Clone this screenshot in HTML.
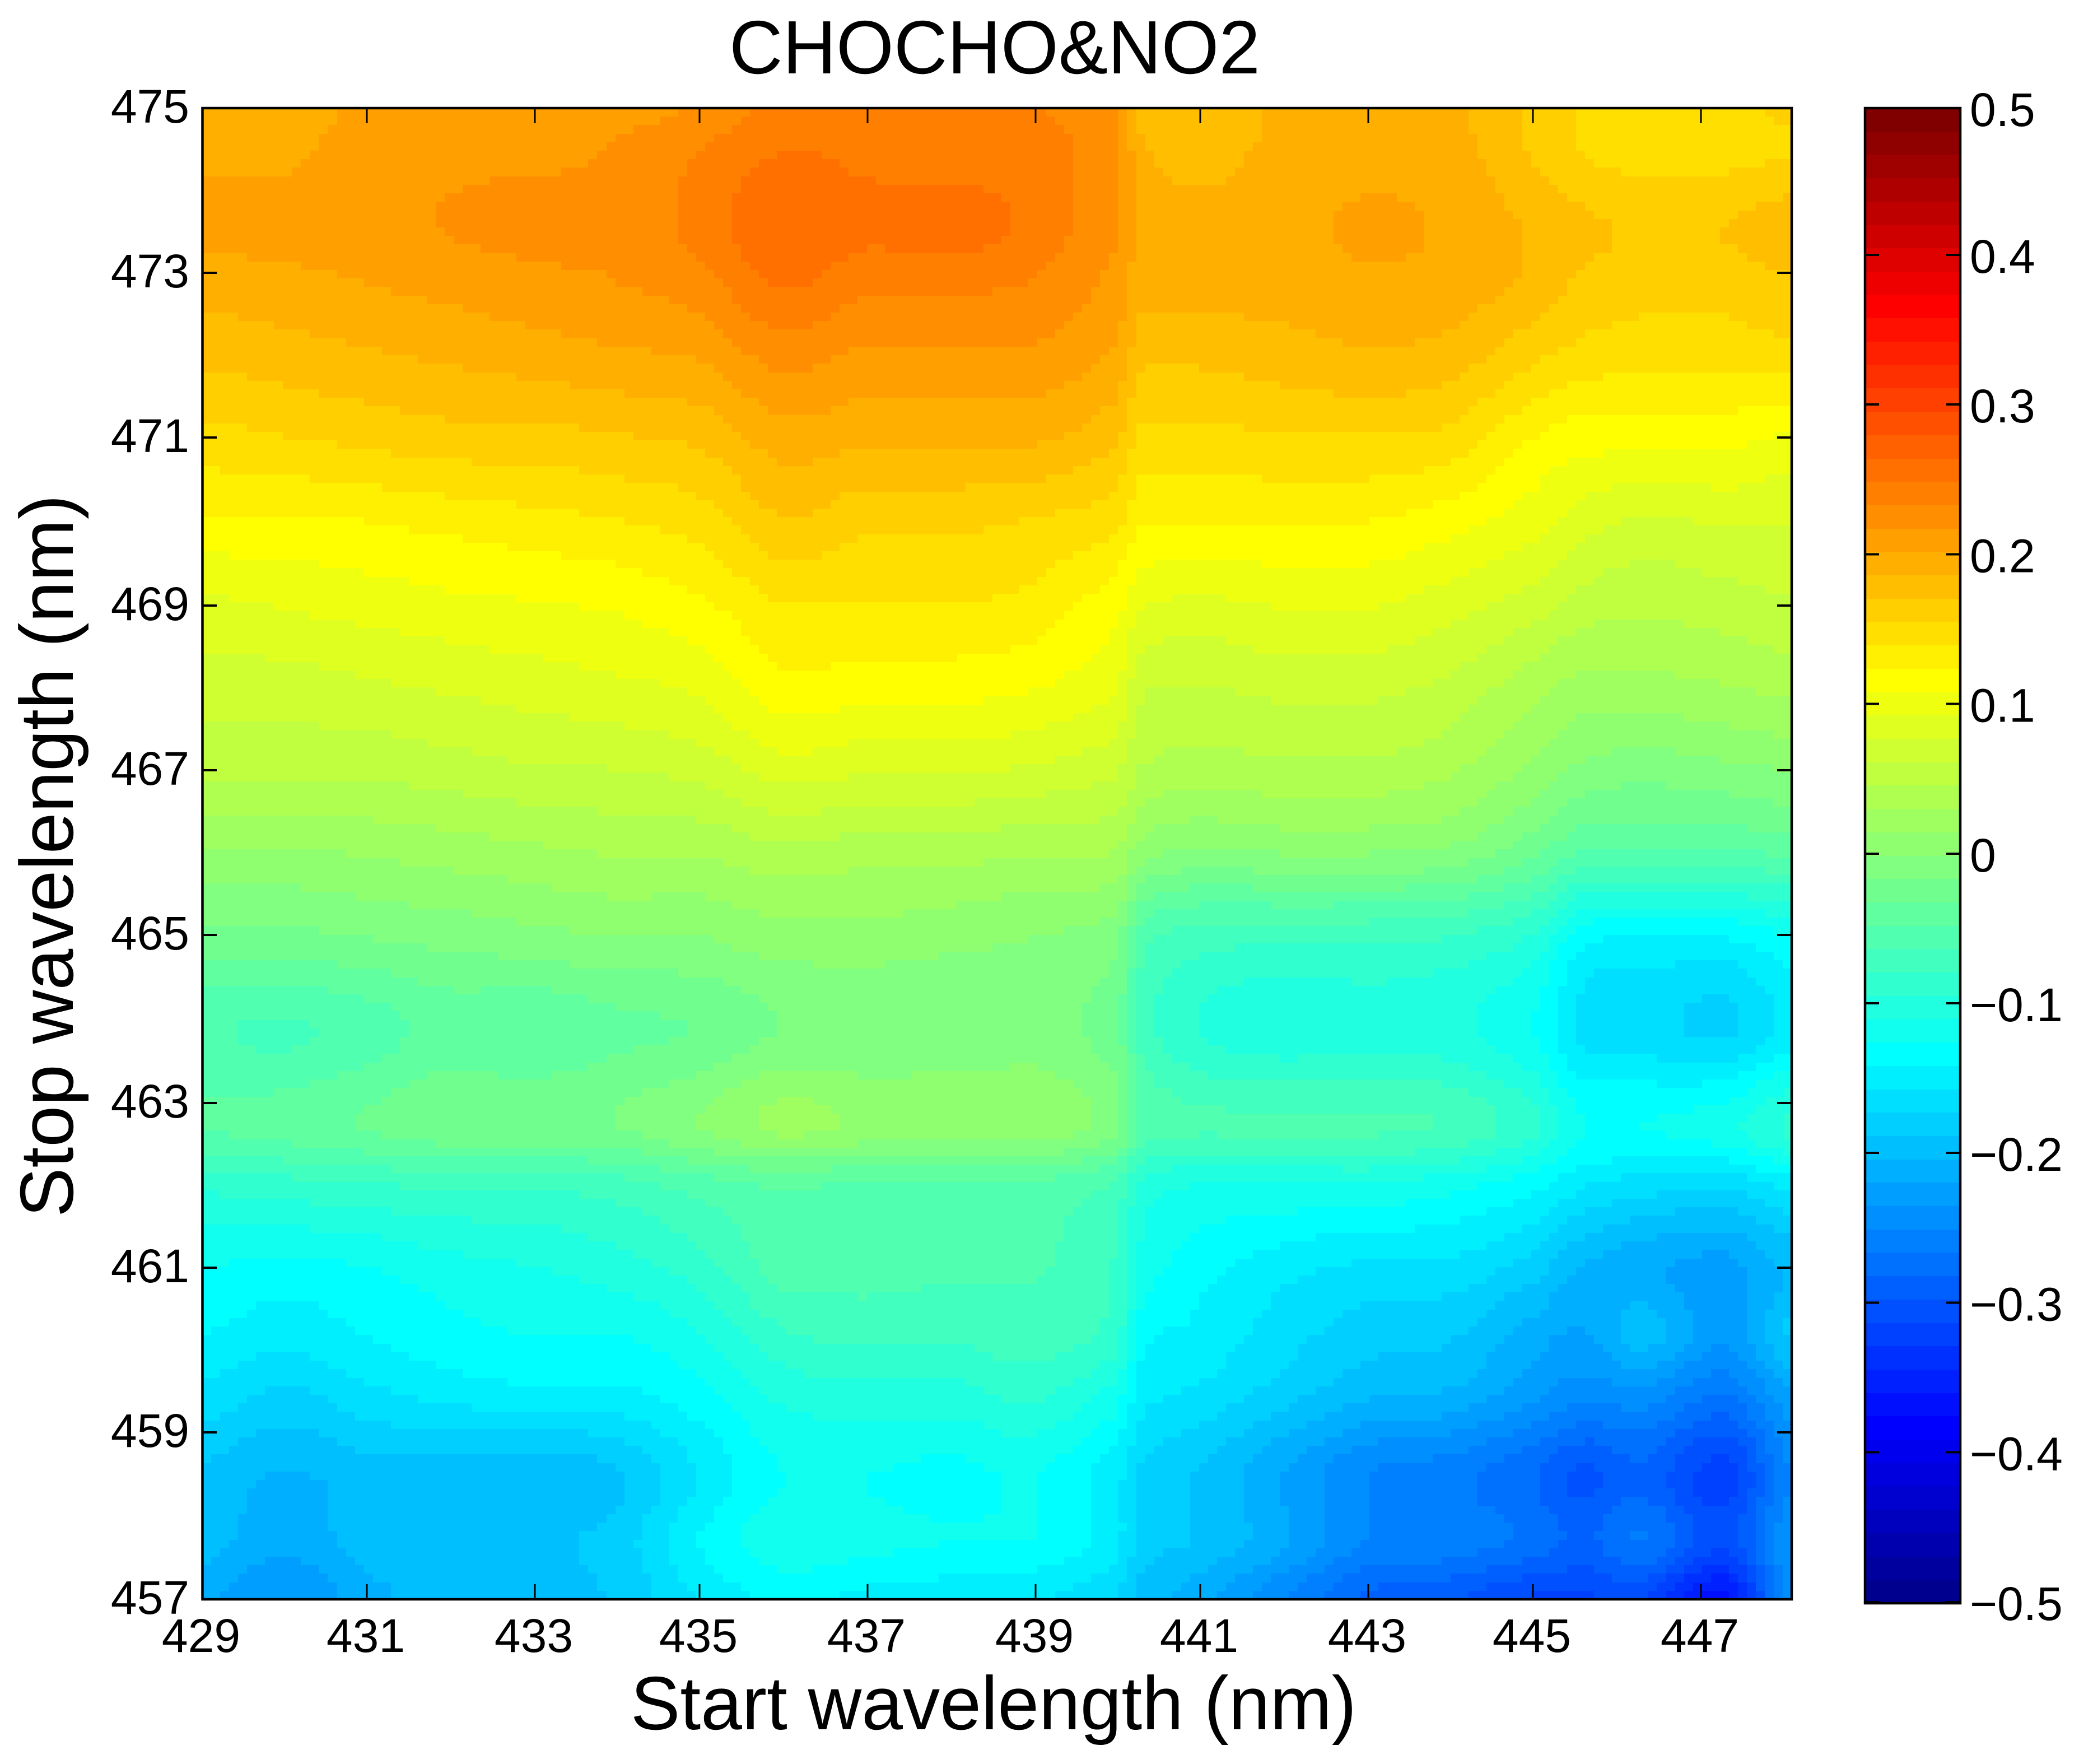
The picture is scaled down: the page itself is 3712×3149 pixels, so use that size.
<!DOCTYPE html>
<html lang="en">
<head>
<meta charset="utf-8">
<title>CHOCHO&amp;NO2</title>
<style>
html,body{margin:0;padding:0;background:#fff;}
svg{display:block;}
text{font-family:"Liberation Sans",Arial,sans-serif;fill:#000;}
</style>
</head>
<body>
<svg id="chart" xmlns="http://www.w3.org/2000/svg" width="3712" height="3149" viewBox="0 0 3712 3149">
  <rect x="0" y="0" width="3712" height="3149" fill="#fff"/>
  <g id="heatmap" shape-rendering="crispEdges"></g>
  <g id="colorbar" shape-rendering="crispEdges"></g>
  <g id="ticks" shape-rendering="crispEdges" stroke="#000"></g>
  <rect x="361.5" y="193" width="2837.5" height="2662" fill="none" stroke="#000" stroke-width="4.5"/>
  <rect x="3330" y="193" width="170" height="2669" fill="none" stroke="#000" stroke-width="4.5"/>
  <g id="labels" font-size="84"></g>
  <text x="1776" y="131" font-size="135" text-anchor="middle" textLength="948" lengthAdjust="spacingAndGlyphs">CHOCHO&amp;NO2</text>
  <text x="1774" y="3087" font-size="135" text-anchor="middle" textLength="1296" lengthAdjust="spacingAndGlyphs">Start wavelength (nm)</text>
  <text transform="translate(130 1528) rotate(-90)" x="0" y="0" font-size="135" text-anchor="middle" textLength="1290" lengthAdjust="spacingAndGlyphs">Stop wavelength (nm)</text>
</svg>
<script>
// Chart data
const startWavelengths = [429,430,431,432,433,434,435,436,437,438,439,440,440.3,441,442,443,444,445,445.6,446.3,447.3,448.1];
const stopWavelengths = [457,457.7,458.5,459.5,460.2,461,462,462.7,463.9,465,466,467,468,469,470,471,472,473,473.6,474.5,475];
const correlationValues = [
  [-.215,-.235,-.21,-.195,-.195,-.185,-.155,-.135,-.145,-.15,-.155,-.17,-.195,-.215,-.25,-.285,-.295,-.315,-.315,-.31,-.365,-.24],
  [-.195,-.215,-.195,-.19,-.19,-.18,-.14,-.115,-.12,-.125,-.125,-.15,-.18,-.19,-.215,-.25,-.255,-.27,-.285,-.265,-.305,-.235],
  [-.19,-.205,-.195,-.195,-.20,-.19,-.155,-.125,-.125,-.13,-.125,-.15,-.175,-.19,-.22,-.25,-.26,-.28,-.30,-.285,-.32,-.25],
  [-.16,-.175,-.16,-.15,-.145,-.145,-.13,-.105,-.10,-.10,-.09,-.115,-.15,-.16,-.18,-.20,-.205,-.23,-.245,-.24,-.265,-.22],
  [-.14,-.15,-.14,-.13,-.125,-.125,-.11,-.08,-.075,-.075,-.07,-.085,-.135,-.145,-.165,-.18,-.185,-.21,-.22,-.195,-.23,-.185],
  [-.125,-.13,-.125,-.115,-.11,-.10,-.085,-.055,-.055,-.06,-.06,-.08,-.115,-.135,-.15,-.16,-.16,-.18,-.205,-.215,-.225,-.20],
  [-.09,-.085,-.08,-.075,-.075,-.07,-.055,-.045,-.05,-.05,-.05,-.065,-.10,-.11,-.11,-.11,-.12,-.135,-.155,-.165,-.17,-.15],
  [-.045,-.04,-.03,-.02,-.02,-.015,0,.02,.012,.012,.012,-.01,-.05,-.06,-.06,-.06,-.065,-.09,-.125,-.125,-.115,-.09],
  [-.06,-.065,-.055,-.04,-.045,-.035,-.03,-.015,-.015,-.015,-.01,-.025,-.07,-.095,-.105,-.10,-.105,-.125,-.16,-.165,-.175,-.15],
  [-.02,-.02,-.015,-.01,-.005,0,0,.01,.01,.005,0,-.01,-.055,-.07,-.073,-.073,-.078,-.095,-.135,-.14,-.14,-.125],
  [.012,.012,.017,.022,.027,.032,.032,.042,.037,.037,.032,.03,.005,-.005,0,0,-.005,-.028,-.05,-.05,-.05,-.045],
  [.05,.05,.05,.055,.06,.062,.068,.085,.08,.08,.075,.065,.045,.038,.042,.042,.033,.012,-.005,-.01,-.005,0],
  [.07,.07,.075,.08,.085,.09,.097,.12,.115,.115,.11,.095,.065,.062,.067,.067,.058,.037,.025,.025,.03,.035],
  [.09,.095,.10,.105,.108,.112,.122,.14,.14,.14,.135,.115,.095,.09,.095,.095,.085,.07,.055,.05,.055,.06],
  [.122,.122,.125,.13,.135,.14,.148,.17,.16,.16,.155,.145,.125,.125,.125,.125,.115,.10,.085,.075,.08,.08],
  [.15,.155,.16,.165,.165,.17,.175,.195,.19,.19,.19,.175,.15,.15,.155,.155,.15,.125,.115,.115,.115,.105],
  [.175,.18,.185,.19,.195,.20,.205,.225,.215,.215,.215,.20,.175,.175,.18,.185,.18,.16,.15,.145,.145,.15],
  [.195,.20,.205,.21,.215,.22,.23,.255,.24,.24,.235,.215,.195,.195,.195,.2,.198,.185,.17,.165,.165,.172],
  [.21,.21,.21,.22,.225,.225,.24,.265,.255,.26,.245,.22,.195,.19,.195,.207,.2,.185,.175,.17,.172,.18],
  [.20,.20,.21,.215,.215,.22,.235,.25,.245,.24,.24,.225,.19,.185,.19,.195,.195,.17,.155,.15,.15,.155],
  [.20,.20,.205,.215,.215,.215,.22,.24,.235,.235,.235,.22,.18,.18,.19,.195,.19,.17,.155,.15,.15,.16]
];
const xTickValues = [429,431,433,435,437,439,441,443,445,447];
const yTickValues = [457,459,461,463,465,467,469,471,473,475];
const colorTickValues = [0.5,0.4,0.3,0.2,0.1,0,-0.1,-0.2,-0.3,-0.4,-0.5];
const colorMin = -0.5;
const colorMax = 0.5;
const colorLevels = 64;

// Layout
const plotLeft = 361, plotRight = 3199, plotTop = 193, plotBottom = 2855;
const barLeft = 3330, barRight = 3500, barTop = 193, barBottom = 2862;
const gridCols = 177, gridRows = 175;
const snapStep = 6;
const SVG_NS = 'http://www.w3.org/2000/svg';

// Axis functions
function xScale(v){ return 655 + 148.8 * (v - 431); }
function xInvert(px){ return 431 + (px - 655) / 148.8; }
function yScale(v){ return plotBottom - (v - 457) * (plotBottom - plotTop) / 18; }
function yInvert(px){ return 457 + (plotBottom - px) * 18 / (plotBottom - plotTop); }
// The source renderer snapped ticks to a coarse device grid
function xTickPos(v){ return 655 + snapStep * Math.round((xScale(v) - 655) / snapStep + 0.2); }
function yTickPos(v){
  if (v <= 457) return plotBottom;
  if (v >= 475) return plotTop;
  return plotTop + snapStep * Math.floor((yScale(v) - plotTop) / snapStep + 0.25);
}
function colorTickScale(v){ return Math.min(barBottom - 2, Math.max(barTop, 455 + (0.4 - v) * 2672)); }

function jetLevel(u){
  // MATLAB jet with u = 1..colorLevels
  const c = x => Math.max(0, Math.min(1, x));
  const r = c(Math.min((u - 24) / 16, (72 - u) / 16));
  const g = c(Math.min((u - 8) / 16, (56 - u) / 16));
  const b = c(Math.min((u + 8) / 16, (40 - u) / 16));
  return 'rgb(' + Math.round(r * 255) + ',' + Math.round(g * 255) + ',' + Math.round(b * 255) + ')';
}
function levelOf(v){
  const k = Math.floor((v - colorMin) / (colorMax - colorMin) * colorLevels) + 1;
  return Math.max(1, Math.min(colorLevels, k));
}
function fracIndex(arr, v){
  if (v <= arr[0]) return 0;
  for (let i = 0; i < arr.length - 1; i++) {
    if (v <= arr[i + 1]) return i + (v - arr[i]) / (arr[i + 1] - arr[i]);
  }
  return arr.length - 1;
}
function cubic(p0, p1, p2, p3, t){
  const val = 0.5 * (2 * p1 + (p2 - p0) * t + (2 * p0 - 5 * p1 + 4 * p2 - p3) * t * t + (3 * p1 - p0 - 3 * p2 + p3) * t * t * t);
  return Math.max(Math.min(p1, p2), Math.min(Math.max(p1, p2), val));
}
function sample(xv, yv){
  const fx = fracIndex(startWavelengths, xv), fy = fracIndex(stopWavelengths, yv);
  const ix = Math.min(Math.floor(fx), startWavelengths.length - 2), iy = Math.min(Math.floor(fy), stopWavelengths.length - 2);
  const tx = fx - ix, ty = fy - iy;
  const rowAt = j => {
    const row = correlationValues[Math.max(0, Math.min(stopWavelengths.length - 1, j))];
    const at = i => row[Math.max(0, Math.min(startWavelengths.length - 1, i))];
    return cubic(at(ix - 1), at(ix), at(ix + 1), at(ix + 2), tx);
  };
  return cubic(rowAt(iy - 1), rowAt(iy), rowAt(iy + 1), rowAt(iy + 2), ty);
}

// Heatmap cells, merged into runs of equal colour level per row
const heatmap = document.getElementById('heatmap');
const cellW = (plotRight - plotLeft) / gridCols, cellH = (plotBottom - plotTop) / gridRows;
for (let j = 0; j < gridRows; j++) {
  const y0 = Math.round(plotTop + j * cellH), y1 = Math.round(plotTop + (j + 1) * cellH);
  const yv = yInvert(plotTop + (j + 0.5) * cellH);
  let runStart = 0, runLevel = levelOf(sample(xInvert(plotLeft + 0.5 * cellW), yv));
  for (let i = 1; i <= gridCols; i++) {
    const lvl = i < gridCols ? levelOf(sample(xInvert(plotLeft + (i + 0.5) * cellW), yv)) : -1;
    if (lvl !== runLevel) {
      const x0 = Math.round(plotLeft + runStart * cellW), x1 = Math.round(plotLeft + i * cellW);
      const cell = document.createElementNS(SVG_NS, 'rect');
      
      
      cell.setAttribute('x', x0);
      cell.setAttribute('y', y0);
      cell.setAttribute('width', x1 - x0);
      cell.setAttribute('height', y1 - y0);
      cell.setAttribute('fill', jetLevel(runLevel));
      heatmap.appendChild(cell);
      runStart = i;
      runLevel = lvl;
    }
  }
}

// Colorbar bands
const colorbar = document.getElementById('colorbar');
for (let u = 1; u <= colorLevels; u++) {
  const h = (barBottom - barTop) / colorLevels;
  const y0 = Math.round(barBottom - u * h), y1 = Math.round(barBottom - (u - 1) * h);
  const band = document.createElementNS(SVG_NS, 'rect');
  
  
  band.setAttribute('x', barLeft);
  band.setAttribute('y', y0);
  band.setAttribute('width', barRight - barLeft);
  band.setAttribute('height', y1 - y0);
  band.setAttribute('fill', jetLevel(u));
  colorbar.appendChild(band);
}

// Ticks and tick labels
const ticks = document.getElementById('ticks');
const labels = document.getElementById('labels');
function addLine(target, x1, y1, x2, y2, w){
  const line = document.createElementNS(SVG_NS, 'line');
  line.setAttribute('x1', x1);
  line.setAttribute('y1', y1);
  line.setAttribute('x2', x2);
  line.setAttribute('y2', y2);
  line.setAttribute('stroke-width', w);
  target.appendChild(line);
  return line;
}
function addText(target, x, y, anchor, str){
  const t = document.createElementNS(SVG_NS, 'text');
  t.setAttribute('x', x);
  t.setAttribute('y', y);
  t.setAttribute('text-anchor', anchor);
  t.textContent = str;
  target.appendChild(t);
  return t;
}
xTickValues.forEach(v => {
  const px = Math.max(plotLeft, xTickPos(v));
  if (px > plotLeft) {
    const b = addLine(ticks, px, plotBottom, px, plotBottom - 27, 3);
    
    
    const t = addLine(ticks, px, plotTop, px, plotTop + 27, 3);
    
    
  }
  const lab = addText(labels, px - 2, 2949, 'middle', String(v));
  
  
});
yTickValues.forEach(v => {
  const py = yTickPos(v);
  if (py > plotTop && py < plotBottom) {
    const l = addLine(ticks, plotLeft, py, plotLeft + 26, py, 4);
    
    
    const r = addLine(ticks, plotRight, py, plotRight - 26, py, 4);
    
    
  }
  const lab = addText(labels, 338, py + 26, 'end', String(v));
  
  
});
colorTickValues.forEach(v => {
  const py = colorTickScale(v);
  if (py > barTop && py < barBottom - 2) {
    const l = addLine(ticks, barLeft, py, barLeft + 25, py, 4);
    
    
    const r = addLine(ticks, barRight, py, barRight - 25, py, 4);
    
    
  }
  const str = v === 0 ? '0' : (v < 0 ? '\u2212' : '') + Math.abs(v).toFixed(1);
  const lab = addText(labels, 3517, py + 32, 'start', str);
  
  
});
</script>
</body>
</html>
